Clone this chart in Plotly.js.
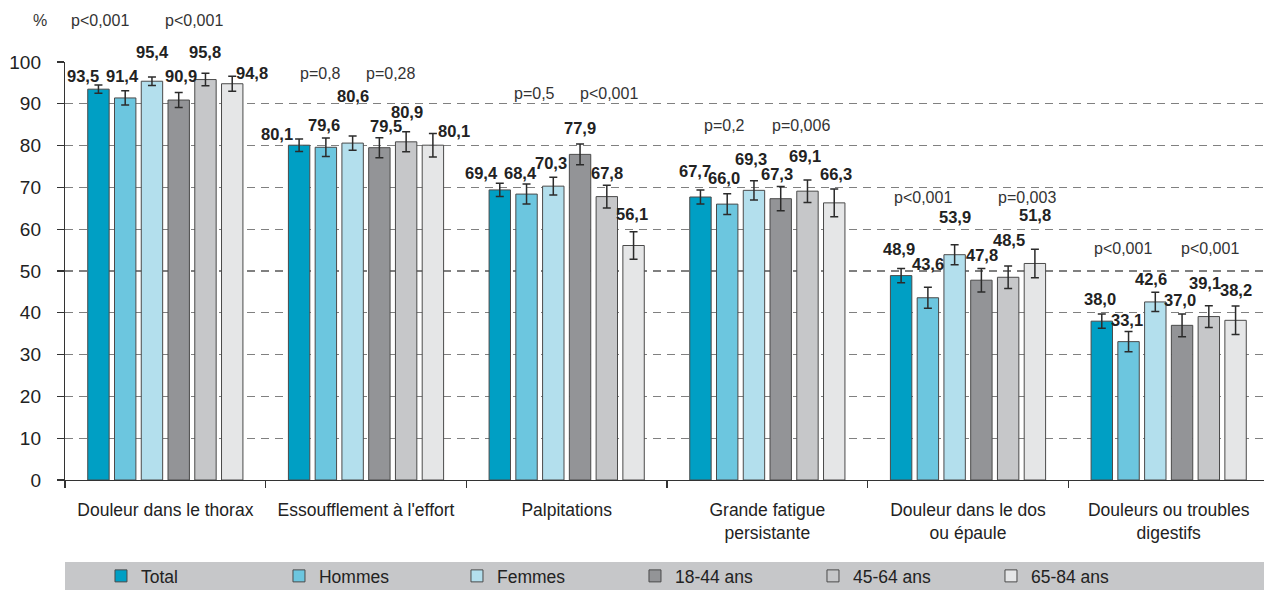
<!DOCTYPE html>
<html>
<head>
<meta charset="utf-8">
<script src="https://cdn.plot.ly/plotly-3.0.1.min.js"></script>
<style>html,body{margin:0;padding:0;background:#fff}#chart{width:1264px;height:590px}</style>
</head>
<body>
<div id="chart"></div>
<script>
// ---------- DATA ----------
const categories = ["Douleur dans le thorax", "Essoufflement à l'effort", "Palpitations",
  "Grande fatigue<br>persistante", "Douleur dans le dos<br>ou épaule", "Douleurs ou troubles<br>digestifs"];
const seriesNames = ["Total", "Hommes", "Femmes", "18-44 ans", "45-64 ans", "65-84 ans"];
const total   = [93.5, 80.1, 69.4, 67.7, 48.9, 38.0];
const hommes  = [91.4, 79.6, 68.4, 66.0, 43.6, 33.1];
const femmes  = [95.4, 80.6, 70.3, 69.3, 53.9, 42.6];
const age1844 = [90.9, 79.5, 77.9, 67.3, 47.8, 37.0];
const age4564 = [95.8, 80.9, 67.8, 69.1, 48.5, 39.1];
const age6584 = [94.8, 80.1, 56.1, 66.3, 51.8, 38.2];
const errTotal   = [1.0, 1.5, 1.6, 1.7, 1.7, 1.7];
const errHommes  = [1.7, 2.2, 2.4, 2.5, 2.5, 2.4];
const errFemmes  = [1.0, 1.7, 2.1, 2.3, 2.4, 2.3];
const err1844    = [1.8, 2.4, 2.5, 2.9, 2.8, 2.7];
const err4564    = [1.5, 2.4, 2.7, 2.7, 2.7, 2.6];
const err6584    = [1.8, 2.8, 3.3, 3.3, 3.4, 3.4];
const pSexe = ["p<0,001", "p=0,8", "p=0,5", "p=0,2", "p<0,001", "p<0,001"];
const pAge  = ["p<0,001", "p=0,28", "p<0,001", "p=0,006", "p=0,003", "p<0,001"];
const yTickVals = [0,10,20,30,40,50,60,70,80,90,100];

// ---------- STYLE / PLACEMENT ----------
const values = [total, hommes, femmes, age1844, age4564, age6584];
const errors = [errTotal, errHommes, errFemmes, err1844, err4564, err6584];
const colors = ["#009fc4", "#6cc6df", "#b3dfed", "#939497", "#c6c7c9", "#e5e6e7"];
const FONT = "'Liberation Sans Narrow', 'Arial Narrow', 'Liberation Sans', sans-serif";
const W = 1264, H = 590, ML = 65, MR = 0, MT = 62, MB = 110;
const XR = [-0.5, 5.475];
const BARGAP = 0.2, BARGROUPGAP = 0.2;
const catPx = (W - ML - MR) / (XR[1] - XR[0]);
const slotPx = catPx * (1 - BARGAP) / seriesNames.length;
// label nudges per category [series] : dx, dy (pixels)
const lblDx = [[-15.5,-3,1,2,0,19.5],[-22.5,-2,0,7,1,21.5],[-18.5,-6,-2,0,0,-2],
               [-5.5,-3,-3,-4,-2,1.5],[-2.5,0,0,1,1,0],[-1.5,-2,-4,-2,-4,0]];
const lblDy = [[12.8,21.6,29.6,23.7,27.9,10.8],[11.6,22.7,46.8,22,30,14.6],[17.2,21.4,23.4,26.5,23.9,31.4],
               [26,26.5,30.9,24.3,35.1,29.2],[26.6,33.9,37.3,25.2,37.6,48.4],[22.4,21.3,23.1,25.6,33.8,29.9]];
const pYPaper = [1.10, 0.972, 0.924, 0.849, 0.677, 0.554];
const pDxSexe = [-65.5,-45.5,-32,-42.5,-45.5,-46];
const pDxAge = [28.5,24.5,42,34,58.5,41];

const traces = seriesNames.map((name, i) => ({
  type: 'bar', name: name, x: categories, y: values[i],
  marker: {color: colors[i], line: {color: '#4a4a4a', width: 1}},
  error_y: {type: 'data', array: errors[i], visible: true, color: '#2b2b2b', thickness: 1.5, width: 4},
  hoverinfo: 'skip', cliponaxis: false
}));

const annotations = [];
categories.forEach((c, j) => {
  values.forEach((vals, i) => {
    annotations.push({
      x: c, y: vals[j], xref: 'x', yref: 'y', showarrow: false,
      text: '<b>' + vals[j].toFixed(1).replace('.', ',') + '</b>',
      xshift: (i - 2.5) * slotPx + lblDx[j][i], yshift: lblDy[j][i],
      yanchor: 'middle', xanchor: 'center',
      font: {family: FONT, size: 16.5, color: '#222'}
    });
  });
  annotations.push({x: c, y: pYPaper[j], xref: 'x', yref: 'paper', showarrow: false, text: pSexe[j],
    xshift: pDxSexe[j], yanchor: 'middle', font: {family: FONT, size: 16, color: '#333'}});
  annotations.push({x: c, y: pYPaper[j], xref: 'x', yref: 'paper', showarrow: false, text: pAge[j],
    xshift: pDxAge[j], yanchor: 'middle', font: {family: FONT, size: 16, color: '#333'}});
});
annotations.push({x: 0, xref: 'paper', xshift: -34, y: 1.1, yref: 'paper', showarrow: false, text: '%',
  yanchor: 'middle', font: {family: FONT, size: 16, color: '#333'}});

const layout = {
  width: W, height: H,
  margin: {l: ML, r: MR, t: MT, b: MB, pad: 0, autoexpand: false},
  paper_bgcolor: '#fff', plot_bgcolor: '#fff',
  barmode: 'group', bargap: BARGAP, bargroupgap: BARGROUPGAP,
  font: {family: FONT, size: 18, color: '#222'},
  xaxis: {
    type: 'category', range: XR, showgrid: false, showline: true, linecolor: '#333', linewidth: 1.2,
    ticks: 'outside', tickson: 'boundaries', ticklen: 7, tickcolor: '#333', tickwidth: 1.2,
    tickfont: {family: FONT, size: 17.5, color: '#222'}, ticklabelstandoff: 14, zeroline: false, fixedrange: true
  },
  yaxis: {
    range: [0, 100], tickvals: yTickVals, showgrid: true, gridcolor: '#808080', gridwidth: 1.2, griddash: '8px,6px',
    showline: true, linecolor: '#333', linewidth: 1.2, ticks: 'outside', ticklen: 7, tickcolor: '#333', tickwidth: 1.2,
    tickfont: {family: FONT, size: 19, color: '#222'}, ticklabelstandoff: 12, zeroline: false, fixedrange: true
  },
  showlegend: true,
  legend: {orientation: 'h', x: 0.03, xanchor: 'left', y: -0.2297, yanchor: 'middle',
    bgcolor: 'rgba(0,0,0,0)', font: {family: FONT, size: 17.5, color: '#222'},
    entrywidth: 133, entrywidthmode: 'pixels', traceorder: 'normal', itemclick: false},
  shapes: [{type: 'rect', xref: 'paper', yref: 'paper', x0: 0, x1: 1, y0: -0.27, y1: -0.196,
    fillcolor: '#c6c7c9', line: {width: 0}, layer: 'below'}],
  annotations: annotations
};

Plotly.newPlot('chart', traces, layout, {displayModeBar: false, staticPlot: true});
</script>
</body>
</html>
